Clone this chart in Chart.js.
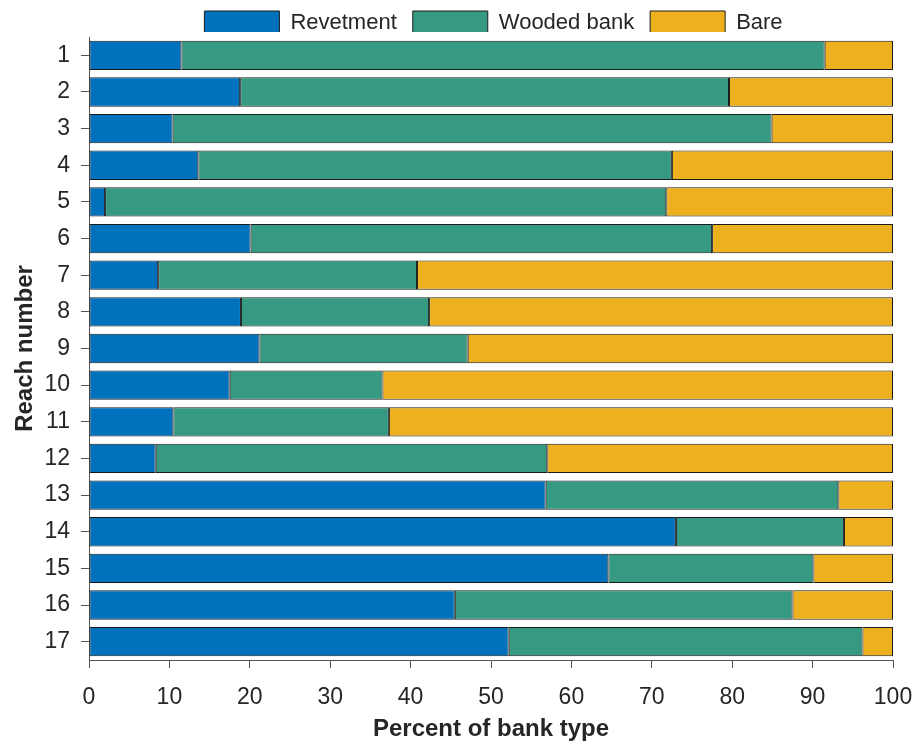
<!DOCTYPE html>
<html>
<head>
<meta charset="utf-8">
<script src="https://cdn.jsdelivr.net/npm/chart.js@4.4.1/dist/chart.umd.min.js"></script>
<style>
  html, body { margin: 0; padding: 0; background: #ffffff; }
  #wrap { width: 915px; height: 747px; }
</style>
</head>
<body>
<div id="wrap"><canvas id="c" width="915" height="747"></canvas></div>
<script>
const reaches = ['1','2','3','4','5','6','7','8','9','10','11','12','13','14','15','16','17'];
const revetment = [11.5, 18.8, 10.4, 13.6, 2.0, 20.1, 8.6, 18.9, 21.2, 17.5, 10.5, 8.3, 56.8, 73.0, 64.6, 45.5, 52.2];
const woodedBank = [80.0, 60.8, 74.5, 58.9, 69.8, 57.4, 32.2, 23.4, 25.9, 19.0, 26.8, 48.7, 36.4, 20.9, 25.5, 42.0, 44.0];
const bare = [8.5, 20.4, 15.1, 27.5, 28.2, 22.5, 59.2, 57.7, 52.9, 63.5, 62.7, 43.0, 6.8, 6.1, 9.9, 12.5, 3.8];
const xTicks = [0, 10, 20, 30, 40, 50, 60, 70, 80, 90, 100];

const FONT = "'Liberation Sans', Arial, sans-serif";
const TXT = '#262626';
const AX = '#555555';

const legendFix = {
  id: 'legendFix',
  beforeLayout(chart) {
    const lg = chart.legend;
    if (lg && !lg._wrappedFit) {
      const f = lg.fit;
      lg.fit = function () { f.call(this); this.height = 37; };
      lg._wrappedFit = true;
    }
  },
  afterLayout(chart) {
    const lg = chart.legend;
    if (!lg) return;
    lg.left += 47; lg.right += 47;
    lg.top -= 5; lg.bottom -= 5;
  }
};

new Chart(document.getElementById('c'), {
  type: 'bar',
  data: {
    labels: reaches,
    datasets: [
      { label: 'Revetment', data: revetment, backgroundColor: '#0072BD' },
      { label: 'Wooded bank', data: woodedBank, backgroundColor: '#359A81' },
      { label: 'Bare', data: bare, backgroundColor: '#EDB120' }
    ].map(d => Object.assign(d, {
      borderColor: '#1a1a1a', borderWidth: 1, borderSkipped: false,
      barPercentage: 0.8, categoryPercentage: 1.0
    }))
  },
  options: {
    indexAxis: 'y',
    responsive: false,
    animation: false,
    devicePixelRatio: 1,
    layout: { padding: { left: 0, right: 22, top: 0, bottom: 0 } },
    plugins: {
      tooltip: { enabled: false },
      legend: {
        position: 'top',
        align: 'center',
        labels: {
          boxWidth: 75, boxHeight: 23, padding: 16,
          color: TXT,
          font: { family: FONT, size: 22 }
        }
      }
    },
    scales: {
      x: {
        type: 'linear', stacked: true, min: 0, max: 100,
        afterBuildTicks(s) { s.ticks = xTicks.map(v => ({ value: v })); },
        afterFit(s) { s.height = 87; s.paddingLeft = 0; s.paddingRight = 0; },
        grid: { drawOnChartArea: false, tickLength: 8, color: AX, tickWidth: 1 },
        border: { display: true, color: AX, width: 1 },
        ticks: { color: TXT, padding: 16, font: { family: FONT, size: 23 }, maxRotation: 0 },
        title: { display: true, text: 'Percent of bank type', color: TXT,
                 font: { family: FONT, size: 24, weight: 'bold' }, padding: { top: 0, bottom: 3 } }
      },
      y: {
        type: 'category', stacked: true, offset: true,
        afterFit(s) { s.width = 89; },
        grid: { drawOnChartArea: false, offset: false, tickLength: 8, color: AX, tickWidth: 1 },
        border: { display: true, color: AX, width: 1 },
        ticks: { color: TXT, padding: 11, font: { family: FONT, size: 23 } },
        title: { display: true, text: 'Reach number', color: TXT,
                 font: { family: FONT, size: 24, weight: 'bold' }, padding: { top: 11, bottom: 0 } }
      }
    }
  },
  plugins: [legendFix]
});
</script>
</body>
</html>
